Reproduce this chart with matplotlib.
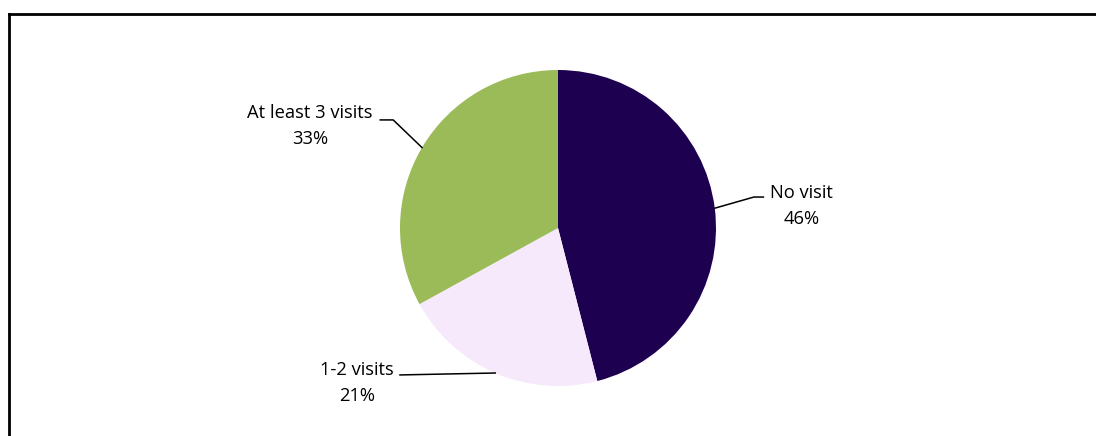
import numpy as np
import matplotlib.pyplot as plt

labels = ['No visit', '1-2 visits', 'At least 3 visits']
shares = [46, 21, 33]
colors = ['#1E0050', '#F5E9FB', '#9BBB59']

# label text centre and leader-line elbow (data units, pie radius = 1)
text_pos = [(1.54, 0.14), (-1.27, -0.98), (-1.57, 0.645)]
elbows = [[(1.24, 0.196), (1.30, 0.196)],
          [(-1.0, -0.93)],
          [(-1.043, 0.684), (-1.125, 0.684)]]

W, H = 1096, 436
fig = plt.figure(figsize=(W / 100, H / 100), dpi=100)
plt.rcParams['font.family'] = ['Open Sans', 'DejaVu Sans']

cx, cy, r = 558, 228, 158
ax = fig.add_axes([(cx - r) / W, (H - cy - r) / H, 2 * r / W, 2 * r / H])
wedges, _ = ax.pie(shares, colors=colors, startangle=90, counterclock=False,
                   radius=1, wedgeprops=dict(linewidth=0))
ax.set_xlim(-1, 1)
ax.set_ylim(-1, 1)
ax.axis('off')

for w, lab, val, tp, el in zip(wedges, labels, shares, text_pos, elbows):
    mid = np.deg2rad((w.theta1 + w.theta2) / 2)
    pts = [(np.cos(mid), np.sin(mid))] + el
    xs, ys = zip(*pts)
    ax.plot(xs, ys, color='black', lw=1.1, clip_on=False)
    ax.text(tp[0], tp[1], f'{lab}\n{val}%', ha='center', va='center',
            fontsize=13.2, linespacing=1.55, color='black', clip_on=False)

# chart frame (left and top edges visible)
fig.add_artist(plt.Line2D([9 / W, 9 / W], [0, 1 - 14 / H], color='black',
                          lw=2, transform=fig.transFigure))
fig.add_artist(plt.Line2D([9 / W, 1], [1 - 14 / H, 1 - 14 / H], color='black',
                          lw=2, transform=fig.transFigure))

fig.savefig('out.png', dpi=100)
